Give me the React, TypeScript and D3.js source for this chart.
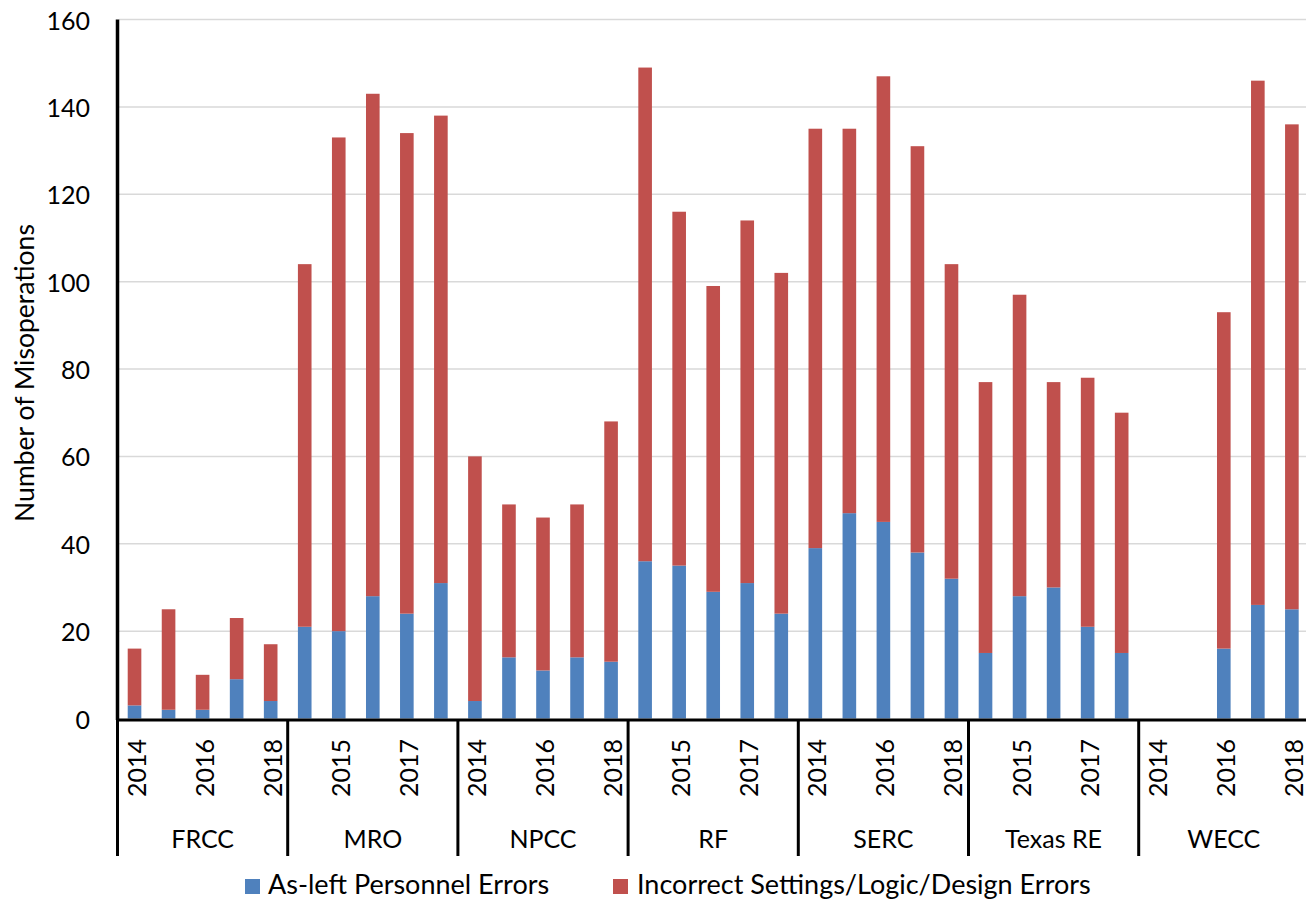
import React from "react";
import * as d3 from "d3";

const regions = ["FRCC", "MRO", "NPCC", "RF", "SERC", "Texas RE", "WECC"];
const years = ["2014", "2015", "2016", "2017", "2018"];
// As-left Personnel Errors (per region, 2014..2018)
const asLeftErrors = [
  3, 2, 2, 9, 4,
  21, 20, 28, 24, 31,
  4, 14, 11, 14, 13,
  36, 35, 29, 31, 24,
  39, 47, 45, 38, 32,
  15, 28, 30, 21, 15,
  0, 0, 16, 26, 25,
];
// Incorrect Settings/Logic/Design Errors
const settingsErrors = [
  13, 23, 8, 14, 13,
  83, 113, 115, 110, 107,
  56, 35, 35, 35, 55,
  113, 81, 70, 83, 78,
  96, 88, 102, 93, 72,
  62, 69, 47, 57, 55,
  0, 0, 77, 120, 111,
];
const yTicks = [0, 20, 40, 60, 80, 100, 120, 140, 160];
const seriesNames = ["As-left Personnel Errors", "Incorrect Settings/Logic/Design Errors"];
const seriesColors = ["#4f81bd", "#c0504d"];

const W = 1306;
const H = 903;
const FONT = "Lato, 'Open Sans', sans-serif";

export default function App() {
  const left = 117.5;
  const groupW = 170.2;
  const right = left + groupW * regions.length;
  const y0 = 718.5;
  const y1 = 19.5;

  const rows = regions.flatMap((r, ri) =>
    years.map((yr, yi) => ({
      key: `${r}|${yr}`,
      region: r,
      year: yr,
      idx: ri * years.length + yi,
      a: asLeftErrors[ri * years.length + yi],
      b: settingsErrors[ri * years.length + yi],
    }))
  );

  const x = d3
    .scaleBand<string>()
    .domain(rows.map((d) => d.key))
    .range([left, right])
    .paddingInner(0.6)
    .paddingOuter(0.3);
  const y = d3.scaleLinear().domain([0, 160]).range([y0, y1]);

  const stack = d3.stack<any>().keys(["a", "b"]);
  const stacked = stack(rows);

  const groupX = d3
    .scaleBand<string>()
    .domain(regions)
    .range([left, right]);

  return (
    <svg
      width={W}
      height={H}
      style={{ position: "absolute", left: 0, top: 0, background: "#fff" }}
      fontFamily={FONT}
    >
      <rect x={0} y={0} width={W} height={H} fill="#fff" />
      {/* gridlines */}
      {yTicks
        .filter((t) => t > 0)
        .map((t) => (
          <line
            key={t}
            x1={left + 1.5}
            x2={W}
            y1={y(t)}
            y2={y(t)}
            stroke="#d9d9d9"
            strokeWidth={1.5}
          />
        ))}
      {/* bars */}
      {stacked.map((s, si) => (
        <g key={si} fill={seriesColors[si]}>
          {s.map((d: any) => {
            const h = y(d[0]) - y(d[1]);
            if (h <= 0) return null;
            return (
              <rect
                key={d.data.key}
                x={x(d.data.key)}
                y={y(d[1])}
                width={x.bandwidth()}
                height={h}
              />
            );
          })}
        </g>
      ))}
      {/* y tick labels */}
      {yTicks.map((t) => (
        <text
          key={t}
          x={90}
          y={y(t)}
          textAnchor="end"
          dominantBaseline="central"
          fontSize={25}
          fill="#000"
        >
          {t}
        </text>
      ))}
      {/* y axis title */}
      <text
        transform={`translate(24,${(y0 + y1) / 2 + 4}) rotate(-90)`}
        textAnchor="middle"
        dominantBaseline="central"
        fontSize={26.5}
        fill="#000"
      >
        Number of Misoperations
      </text>
      {/* axes */}
      <line x1={left} x2={left} y1={y1} y2={y0 + 1.5} stroke="#000" strokeWidth={3.5} />
      <line x1={left - 1.5} x2={W} y1={720} y2={720} stroke="#000" strokeWidth={3} />
      {/* group separators */}
      {regions.map((r) => (
        <line
          key={r}
          x1={groupX(r)!}
          x2={groupX(r)!}
          y1={720}
          y2={856}
          stroke="#000"
          strokeWidth={3}
        />
      ))}
      {/* year labels every other category */}
      {rows
        .filter((d) => d.idx % 2 === 0)
        .map((d) => (
          <text
            key={d.key}
            transform={`translate(${x(d.key)! + x.bandwidth() / 2 + 1},768) rotate(-90)`}
            textAnchor="middle"
            dominantBaseline="central"
            fontSize={25}
            fill="#000"
          >
            {d.year}
          </text>
        ))}
      {/* region labels */}
      {regions.map((r) => (
        <text
          key={r}
          x={groupX(r)! + groupX.bandwidth() / 2}
          y={838}
          textAnchor="middle"
          dominantBaseline="central"
          fontSize={25}
          fill="#000"
        >
          {r}
        </text>
      ))}
      {/* legend */}
      <g>
        <rect x={245} y={879} width={15} height={15} fill={seriesColors[0]} />
        <text x={268} y={894} fontSize={27} fill="#000">
          {seriesNames[0]}
        </text>
        <rect x={613} y={879} width={15} height={15} fill={seriesColors[1]} />
        <text x={637} y={894} fontSize={27} fill="#000">
          {seriesNames[1]}
        </text>
      </g>
    </svg>
  );
}
